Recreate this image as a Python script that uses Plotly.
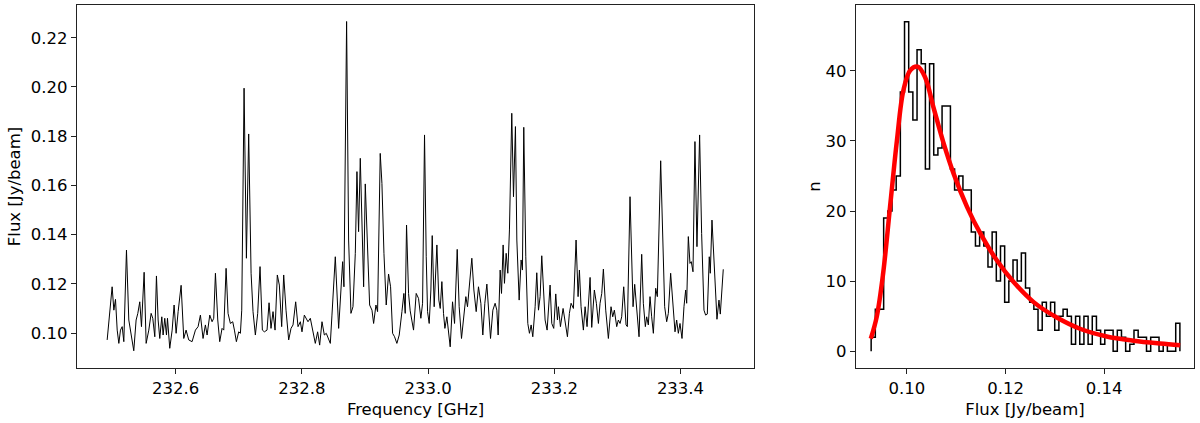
import numpy as np
import plotly.graph_objects as go

# ---------------- data ----------------
spec_freq = [
    232.4913, 232.4992, 232.5019, 232.5045, 232.5072, 232.5098, 232.5124, 232.5151, 232.5177, 232.5219,
    232.5256, 232.5299, 232.5335, 232.5372, 232.5399, 232.5430, 232.5457, 232.5499, 232.5531, 232.5573,
    232.5610, 232.5636, 232.5668, 232.5694, 232.5721, 232.5747, 232.5779, 232.5800, 232.5826, 232.5853,
    232.5869, 232.5905, 232.5943, 232.5974, 232.6006, 232.6038, 232.6085, 232.6127, 232.6164, 232.6206,
    232.6259, 232.6312, 232.6354, 232.6391, 232.6433, 232.6470, 232.6497, 232.6539, 232.6576, 232.6602,
    232.6629, 232.6666, 232.6697, 232.6734, 232.6761, 232.6798, 232.6829, 232.6866, 232.6903, 232.6930,
    232.6961, 232.6998, 232.7025, 232.7046, 232.7083, 232.7120, 232.7156, 232.7194, 232.7225, 232.7262,
    232.7299, 232.7336, 232.7373, 232.7405, 232.7447, 232.7479, 232.7510, 232.7542, 232.7574, 232.7610,
    232.7642, 232.7679, 232.7711, 232.7748, 232.7790, 232.7827, 232.7859, 232.7901, 232.7938, 232.7975,
    232.8001, 232.8038, 232.8096, 232.8133, 232.8170, 232.8212, 232.8249, 232.8281, 232.8318, 232.8355,
    232.8386, 232.8423, 232.8450, 232.8476, 232.8529, 232.8582, 232.8624, 232.8645, 232.8666, 232.8708,
    232.8740, 232.8777, 232.8809, 232.8846, 232.8872, 232.8898, 232.8925, 232.8951, 232.8978, 232.9004,
    232.9036, 232.9073, 232.9110, 232.9136, 232.9173, 232.9199, 232.9241, 232.9268, 232.9300, 232.9336,
    232.9373, 232.9405, 232.9437, 232.9468, 232.9505, 232.9542, 232.9585, 232.9616, 232.9637, 232.9658,
    232.9690, 232.9716, 232.9769, 232.9811, 232.9848, 232.9885, 232.9912, 232.9943, 232.9970, 232.9991,
    233.0017, 233.0044, 233.0065, 233.0096, 233.0139, 233.0170, 233.0192, 233.0218, 233.0244, 233.0266,
    233.0297, 233.0323, 233.0350, 233.0387, 233.0419, 233.0461, 233.0492, 233.0529, 233.0561, 233.0598,
    233.0624, 233.0656, 233.0693, 233.0725, 233.0762, 233.0798, 233.0836, 233.0867, 233.0899, 233.0931,
    233.0962, 233.0989, 233.1026, 233.1062, 233.1089, 233.1110, 233.1142, 233.1163, 233.1189, 233.1210,
    233.1237, 233.1263, 233.1289, 233.1326, 233.1353, 233.1384, 233.1406, 233.1443, 233.1474, 233.1495,
    233.1516, 233.1548, 233.1580, 233.1606, 233.1633, 233.1659, 233.1696, 233.1722, 233.1749, 233.1775,
    233.1801, 233.1833, 233.1854, 233.1886, 233.1933, 233.1960, 233.1991, 233.2023, 233.2050, 233.2065,
    233.2097, 233.2139, 233.2171, 233.2208, 233.2239, 233.2266, 233.2303, 233.2345, 233.2377, 233.2398,
    233.2424, 233.2461, 233.2488, 233.2519, 233.2567, 233.2593, 233.2635, 233.2667, 233.2699, 233.2725,
    233.2752, 233.2778, 233.2815, 233.2857, 233.2899, 233.2926, 233.2952, 233.2989, 233.3015, 233.3042,
    233.3068, 233.3100, 233.3137, 233.3158, 233.3200, 233.3227, 233.3248, 233.3274, 233.3306, 233.3343,
    233.3385, 233.3411, 233.3443, 233.3464, 233.3490, 233.3517, 233.3543, 233.3570, 233.3607, 233.3633,
    233.3686, 233.3717, 233.3749, 233.3781, 233.3807, 233.3844, 233.3876, 233.3913, 233.3939, 233.3966,
    233.3992, 233.4024, 233.4055, 233.4082, 233.4098, 233.4124, 233.4150, 233.4171, 233.4198, 233.4229,
    233.4261, 233.4303, 233.4335, 233.4372, 233.4398, 233.4425, 233.4456, 233.4472, 233.4499, 233.4530,
    233.4557, 233.4578, 233.4610, 233.4631, 233.4678,
]
spec_flux = [
    0.0972, 0.1188, 0.1093, 0.1137, 0.1012, 0.0958, 0.1012, 0.1026, 0.0965, 0.1337,
    0.1053, 0.0985, 0.0928, 0.1053, 0.1080, 0.1127, 0.1026, 0.1247, 0.0958, 0.1012,
    0.1080, 0.1060, 0.0985, 0.1232, 0.1053, 0.0978, 0.1066, 0.0992, 0.1060, 0.0992,
    0.1060, 0.0938, 0.1012, 0.1114, 0.0999, 0.1087, 0.1194, 0.0978, 0.1012, 0.0972,
    0.0965, 0.1012, 0.1026, 0.1073, 0.0978, 0.1033, 0.0992, 0.1073, 0.1046, 0.1060,
    0.1243, 0.1053, 0.0965, 0.1019, 0.1012, 0.1263, 0.1080, 0.1039, 0.1046, 0.1012,
    0.0965, 0.1005, 0.0999, 0.1093, 0.1995, 0.1304, 0.1809, 0.1243, 0.1087, 0.0992,
    0.1080, 0.1270, 0.1012, 0.1005, 0.1012, 0.1123, 0.1019, 0.1087, 0.1012, 0.1236,
    0.1195, 0.1026, 0.1236, 0.1093, 0.0972, 0.1019, 0.1033, 0.1127, 0.1026, 0.1046,
    0.1005, 0.1073, 0.1046, 0.1060, 0.1005, 0.0958, 0.1005, 0.0951, 0.1046, 0.0992,
    0.0999, 0.0978, 0.0958, 0.1073, 0.1310, 0.1019, 0.1202, 0.1290, 0.1188, 0.2266,
    0.1378, 0.1080, 0.1107, 0.1324, 0.1656, 0.1412, 0.1710, 0.1405, 0.1188, 0.1606,
    0.1351, 0.1114, 0.1093, 0.1039, 0.1114, 0.1087, 0.1730, 0.1608, 0.1324, 0.1114,
    0.1240, 0.1188, 0.0999, 0.0985, 0.0958, 0.0992, 0.1087, 0.1161, 0.1080, 0.1439,
    0.1161, 0.1090, 0.1012, 0.1161, 0.1141, 0.1060, 0.1121, 0.1805, 0.1310, 0.1087,
    0.1039, 0.1175, 0.1396, 0.1107, 0.1358, 0.1134, 0.1100, 0.1209, 0.1080, 0.1019,
    0.1066, 0.0999, 0.0944, 0.1127, 0.1039, 0.1340, 0.1107, 0.0978, 0.1060, 0.1148,
    0.1107, 0.1209, 0.1304, 0.1175, 0.1087, 0.1188, 0.1121, 0.0992, 0.1121, 0.1199,
    0.1093, 0.0978, 0.1093, 0.1121, 0.1093, 0.0992, 0.1256, 0.1161, 0.1358, 0.1202,
    0.1324, 0.1243, 0.1419, 0.1893, 0.1554, 0.1839, 0.1378, 0.1134, 0.1297, 0.1256,
    0.1836, 0.1310, 0.1039, 0.0999, 0.1033, 0.0985, 0.1107, 0.1245, 0.1093, 0.1148,
    0.1314, 0.1168, 0.1053, 0.1012, 0.1195, 0.1039, 0.1019, 0.1159, 0.1053, 0.1107,
    0.1026, 0.1100, 0.1053, 0.0985, 0.1080, 0.1121, 0.1100, 0.1378, 0.1148, 0.1256,
    0.1107, 0.1012, 0.1107, 0.1026, 0.1226, 0.1023, 0.1175, 0.1121, 0.1039, 0.1121,
    0.1161, 0.1260, 0.1093, 0.0978, 0.1107, 0.1066, 0.1093, 0.1026, 0.1053, 0.1039,
    0.1066, 0.1188, 0.1033, 0.1026, 0.1554, 0.1283, 0.1107, 0.1198, 0.1093, 0.0985,
    0.1320, 0.1121, 0.1026, 0.1066, 0.1033, 0.1148, 0.1066, 0.0999, 0.1182, 0.1148,
    0.1700, 0.1405, 0.1107, 0.1046, 0.1080, 0.1243, 0.1121, 0.1005, 0.1053, 0.0999,
    0.1039, 0.0978, 0.1107, 0.1175, 0.1121, 0.1392, 0.1283, 0.1290, 0.1249, 0.1778,
    0.1351, 0.1805, 0.1405, 0.1093, 0.1073, 0.1077, 0.1310, 0.1243, 0.1459, 0.1310,
    0.1175, 0.1056, 0.1134, 0.1077, 0.1259,
]

# histogram of flux values (step outline)
hist_lo = 0.09277
hist_hi = 0.15534
hist_counts = [
    2, 6, 6, 19, 20, 23, 25, 37, 47, 37,
    33, 43, 41, 26, 41, 28, 29, 35, 35, 26,
    23, 25, 23, 23, 17, 15, 17, 15, 12, 17,
    10, 15, 7, 10, 13, 10, 14, 9, 7, 6,
    3, 7, 5, 7, 3, 5, 6, 5, 1, 5,
    1, 5, 1, 5, 3, 1, 3, 3, 0, 3,
    2, 0, 1, 3, 2, 2, 0, 2, 2, 0,
    1, 0, 0, 4,
]

# red fitted curve
fit_x = [0.0927, 0.0939, 0.0952, 0.0966, 0.0980, 0.0993, 0.1007, 0.1022, 0.1037, 0.1054,
         0.1074, 0.1095, 0.1122, 0.1149, 0.1182, 0.1216, 0.1257, 0.1304, 0.1351, 0.1405,
         0.1459, 0.1513, 0.1554]
fit_y = [1.8, 4.9, 11.1, 20.6, 30.1, 37.2, 40.1, 40.6, 39.1, 34.8,
         29.8, 25.3, 20.6, 16.8, 13.0, 9.9, 7.0, 4.8, 3.2, 2.1,
         1.5, 1.1, 0.86]

left_xticks = [232.6, 232.8, 233.0, 233.2, 233.4]
left_yticks = [0.10, 0.12, 0.14, 0.16, 0.18, 0.20, 0.22]
right_xticks = [0.10, 0.12, 0.14]
right_yticks = [0, 10, 20, 30, 40]

# ---------------- build step outline ----------------
edges = np.linspace(hist_lo, hist_hi, len(hist_counts) + 1)
step_x = [edges[0]] + list(edges[:-1]) + [edges[-1], edges[-1]]
step_y = [0] + list(hist_counts) + [hist_counts[-1], 0]

# ---------------- figure ----------------
FONT = "DejaVu Sans"
FS = 16.5
W, H = 1200, 423

fig = go.Figure()
fig.add_trace(go.Scatter(x=spec_freq, y=spec_flux, mode="lines",
                         line=dict(color="black", width=1), xaxis="x", yaxis="y",
                         showlegend=False, hoverinfo="skip"))
fig.add_trace(go.Scatter(x=step_x, y=step_y, mode="lines", line_shape="hv",
                         line=dict(color="black", width=1.5), xaxis="x2", yaxis="y2",
                         showlegend=False, hoverinfo="skip"))
fig.add_trace(go.Scatter(x=fit_x, y=fit_y, mode="lines", line_shape="spline",
                         line=dict(color="red", width=4.5), xaxis="x2", yaxis="y2",
                         showlegend=False, hoverinfo="skip"))

ydom = [(H - 368) / H, (H - 5) / H]
axis_common = dict(showline=True, linecolor="#222", linewidth=1.3, mirror=True,
                   ticks="outside", ticklen=5, tickwidth=1.3, tickcolor="#222",
                   showgrid=False, zeroline=False,
                   tickfont=dict(family=FONT, size=FS, color="black"))

fig.update_layout(
    width=W, height=H, autosize=False,
    margin=dict(l=0, r=0, t=0, b=0),
    paper_bgcolor="white", plot_bgcolor="white",
    font=dict(family=FONT, size=FS, color="black"),
    xaxis=dict(domain=[77 / W, 754 / W], range=[232.4435, 233.5165],
               tickvals=left_xticks, tickformat=".1f", anchor="y",
               title=dict(text="Frequency [GHz]", standoff=6,
                          font=dict(family=FONT, size=FS)), **axis_common),
    yaxis=dict(domain=ydom, range=[0.0858, 0.2333],
               tickvals=left_yticks, tickformat=".2f", anchor="x",
               title=dict(text="Flux [Jy/beam]", standoff=6,
                          font=dict(family=FONT, size=FS)), **axis_common),
    xaxis2=dict(domain=[856 / W, 1194 / W], range=[0.0897, 0.1582],
                tickvals=right_xticks, tickformat=".2f", anchor="y2",
                title=dict(text="Flux [Jy/beam]", standoff=6,
                           font=dict(family=FONT, size=FS)), **axis_common),
    yaxis2=dict(domain=ydom, range=[-2.4, 49.4],
                tickvals=right_yticks, anchor="x2",
                title=dict(text="n", standoff=0,
                           font=dict(family=FONT, size=FS)), **axis_common),
)

fig.write_html("out.html", config={"displayModeBar": False},
               post_script="document.body.style.margin='0';document.body.style.padding='0';")
